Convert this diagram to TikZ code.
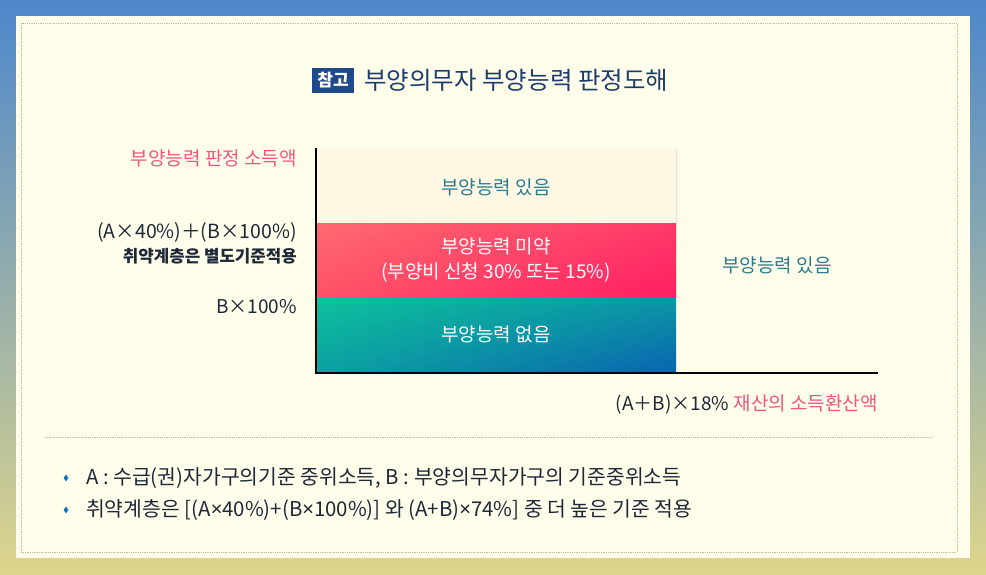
\documentclass[tikz,border=0pt]{standalone}
\usepackage{fontspec}
\setmainfont{Noto Sans CJK KR}
\newfontfamily\latinsans{Noto Sans}
\usetikzlibrary{shapes.geometric,shadings}
\definecolor{bgtop}{HTML}{4D87CC}
\definecolor{bgbot}{HTML}{DDD58C}
\definecolor{panel}{HTML}{FFFEEA}
\definecolor{dotc}{HTML}{C9B79C}
\definecolor{navy}{HTML}{1F4A8A}
\definecolor{titlec}{HTML}{1C3C70}
\definecolor{pinkt}{HTML}{F2557E}
\definecolor{darkt}{HTML}{1E2838}
\definecolor{tealt}{HTML}{2A7B8C}
\definecolor{cream}{HTML}{FFF8E4}
\definecolor{rcream}{HTML}{FFFCEA}
\definecolor{divc}{HTML}{F8DCC4}
\definecolor{bulletc}{HTML}{1A6FC0}
\definecolor{pul}{HTML}{FF6A70}
\definecolor{pur}{HTML}{FF3A68}
\definecolor{pll}{HTML}{FF5268}
\definecolor{plr}{HTML}{FF1E62}
\definecolor{gul}{HTML}{0DC29C}
\definecolor{gur}{HTML}{0B96A5}
\definecolor{gll}{HTML}{0CA0A2}
\definecolor{glr}{HTML}{0A64B0}
\newcommand{\smx}{{\latinsans ×}}
\tikzset{
  lbl/.style={font=\fontsize{19}{22}\selectfont, inner sep=0pt},
  inlbl/.style={font=\fontsize{19}{22}\selectfont, inner sep=0pt, text=white, align=center},
  bul/.style={diamond, fill=bulletc, inner sep=0pt, minimum width=5pt, minimum height=7pt},
  btxt/.style={font=\fontsize{20.4}{24}\selectfont, inner sep=0pt, text=darkt, anchor=west}
}
\begin{document}
\begin{tikzpicture}[x=1pt,y=-1pt]
\useasboundingbox (0,0) rectangle (986,574);
\shade[top color=bgtop, bottom color=bgbot] (0,0) rectangle (986,574);
\fill[panel] (16,16) rectangle (970,558);
\draw[dotc, densely dotted, line width=0.8pt] (21,23) rectangle (957,552);
% title
\node[fill=navy, text=white, font=\fontsize{17}{19}\selectfont\bfseries, minimum width=42pt, minimum height=25pt, inner sep=0pt] (tag) at (333,80) {참고};
\node[anchor=west, text=titlec, font=\fontsize{24.5}{28}\selectfont, inner sep=0pt] (title) at (364,80) {부양의무자 부양능력 판정도해};
% chart regions
\fill[cream] (316,148) rectangle (676,223);
\fill[rcream] (676,148) rectangle (878,373);
\shade[upper left=pul, upper right=pur, lower left=pll, lower right=plr] (316,223) rectangle (676,297);
\shade[upper left=gul, upper right=gur, lower left=gll, lower right=glr] (316,297) rectangle (676,373);
\draw[divc, line width=0.8pt] (676,148) -- (676,297);
\draw[black, line width=1.3pt] (316,148) -- (316,373) -- (878,373);
% region labels
\node[lbl, text=tealt] (r1) at (496,187) {부양능력 있음};
\node[inlbl] (r2a) at (496,246) {부양능력 미약};
\node[inlbl] (r2b) at (496,272) {(부양비 신청 30\% 또는 15\%)};
\node[inlbl] (r3) at (496,334) {부양능력 없음};
\node[lbl, text=tealt] (r4) at (777,265) {부양능력 있음};
% axis labels
\node[lbl, text=pinkt, anchor=east] (yl) at (297,158) {부양능력 판정 소득액};
\node[lbl, text=darkt, anchor=east, font=\fontsize{19.5}{22}\selectfont] (y1) at (297,232) {(A×40\%)＋(B×100\%)};
\node[lbl, text=darkt, anchor=east, font=\fontsize{16.8}{20}\selectfont\bfseries] (y1b) at (297,256) {취약계층은 별도기준적용};
\node[lbl, text=darkt, anchor=east] (y2) at (297,307) {B×100\%};
\node[lbl, anchor=east] (xl) at (878,404) {\textcolor{darkt}{(A＋B)×18\%} \textcolor{pinkt}{재산의 소득환산액}};
% separator
\draw[dotc, densely dotted, line width=0.8pt] (45,437) -- (932,437);
% notes
\node[bul] (b1) at (66,478) {};
\node[btxt] (t1) at (86,478) {A : 수급(권)자가구의기준 중위소득, B : 부양의무자가구의 기준중위소득};
\node[bul] (b2) at (66,510) {};
\node[btxt] (t2) at (86,510) {취약계층은 [(A\smx 40\%)+(B\smx 100\%)] 와 (A+B)\smx 74\%] 중 더 높은 기준 적용};
\end{tikzpicture}
\end{document}
